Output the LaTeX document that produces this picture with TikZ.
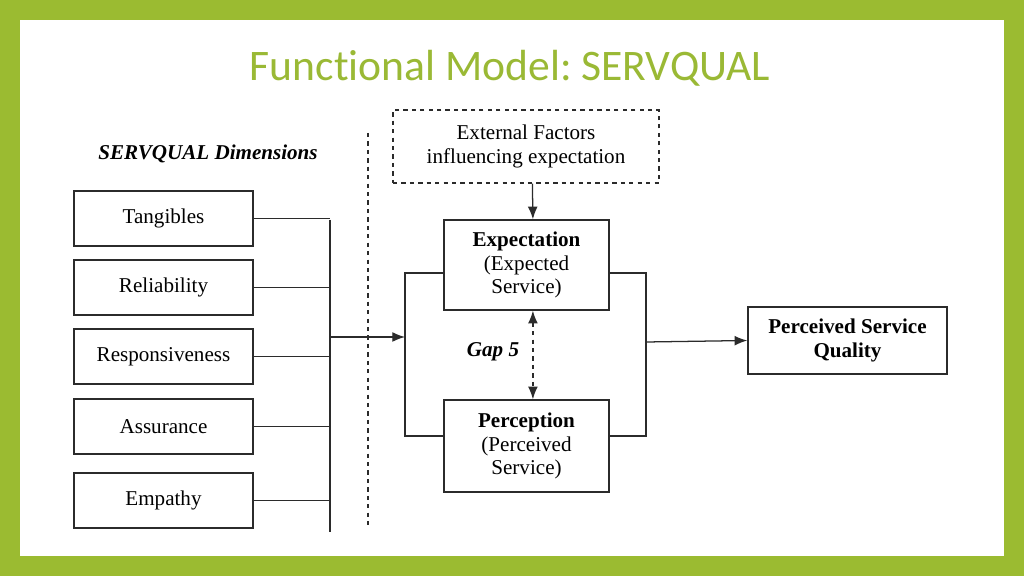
\documentclass[tikz,border=0pt]{standalone}
\usepackage{fontspec}
\setmainfont{Liberation Serif}
\newfontfamily\titlefont[Ligatures=NoCommon]{Carlito}
\usetikzlibrary{arrows.meta}
\definecolor{slidegreen}{HTML}{9BBB31}
\definecolor{titlegreen}{HTML}{9AB935}
\definecolor{inkgray}{HTML}{2B2B2B}
\frenchspacing
\begin{document}
\begin{tikzpicture}[x=0.025cm,y=-0.025cm,
    box/.style={draw=inkgray,line width=1pt,inner sep=0pt,align=center,
      font=\fontsize{15}{17}\selectfont},
    dimbox/.style={box,minimum width=4.475cm,minimum height=1.375cm},
    wire/.style={draw=inkgray,line width=0.9pt},
    arr/.style={wire,-{Latex[length=9pt,width=7pt]}}]
    % slide frame
    \fill[slidegreen] (0,0) rectangle (1024,576);
    \fill[white] (20,20) rectangle (1004,556);
    \useasboundingbox (0,0) rectangle (1024,576);
    \node[text=titlegreen,font=\titlefont\fontsize{31}{36}\selectfont] (title) at (510,68) {Funct\kern0pt ional Model: SERVQUAL};
    % dimensions
    \node[font=\fontsize{15}{17}\selectfont\bfseries\itshape] (dimhead) at (208,154) {SERVQUAL Dimensions};
    \node[dimbox] (tang) at (163.5,218.5) {Tangibles};
    \node[dimbox] (reli) at (163.5,287.5) {Reliability};
    \node[dimbox] (resp) at (163.5,356.5) {Responsiveness};
    \node[dimbox] (assu) at (163.5,426.5) {Assurance};
    \node[dimbox] (empa) at (163.5,500.5) {Empathy};
    \coordinate (bustop) at (330,220);
    \coordinate (busbot) at (330,532);
    \coordinate (bus) at (330,337);
    \draw[wire] (bustop) -- (busbot);
    \foreach \d in {tang,reli,resp,assu,empa}
        \draw[wire] (\d.east) -- (\d.east -| bus);
    \draw[dashed,wire] (368,133) -- (368,527);
    % gap model
    \node[box,dashed,minimum width=6.65cm,minimum height=1.825cm] (ext) at (526,146.5) {External Factors\\influencing expectation};
    \node[box,minimum width=4.125cm,minimum height=2.25cm] (exp) at (526.5,265) {\textbf{Expectation}\\(Expected\\Service)};
    \node[box,minimum width=4.125cm,minimum height=2.3cm] (pcp) at (526.5,446) {\textbf{Perception}\\(Perceived\\Service)};
    \node[font=\fontsize{15}{17}\selectfont\bfseries\itshape] (gap) at (493,352) {Gap 5};
    \node[box,font=\fontsize{15}{17}\selectfont\bfseries,minimum width=4.975cm,minimum height=1.675cm] (psq) at (847.5,340.5) {Perceived Service\\Quality};
    \coordinate (loopl) at (405,337);
    \coordinate (loopr) at (646,342);
    \draw[arr] (bus) -- (loopl);
    \draw[wire] ([yshift=-0.2cm]exp.west) -| (loopl) |- ([yshift=0.25cm]pcp.west);
    \draw[wire] ([yshift=-0.2cm]exp.east) -| (loopr) |- ([yshift=0.25cm]pcp.east);
    \draw[arr] ([xshift=0.16cm]ext.south) -- ([xshift=0.16cm]exp.north);
    \draw[arr,{Latex[length=9pt,width=7pt]}-{Latex[length=9pt,width=7pt]},dashed] ([xshift=0.16cm]exp.south) -- ([xshift=0.16cm]pcp.north);
    \draw[arr] (loopr) -- (psq.west);
\end{tikzpicture}
\end{document}
